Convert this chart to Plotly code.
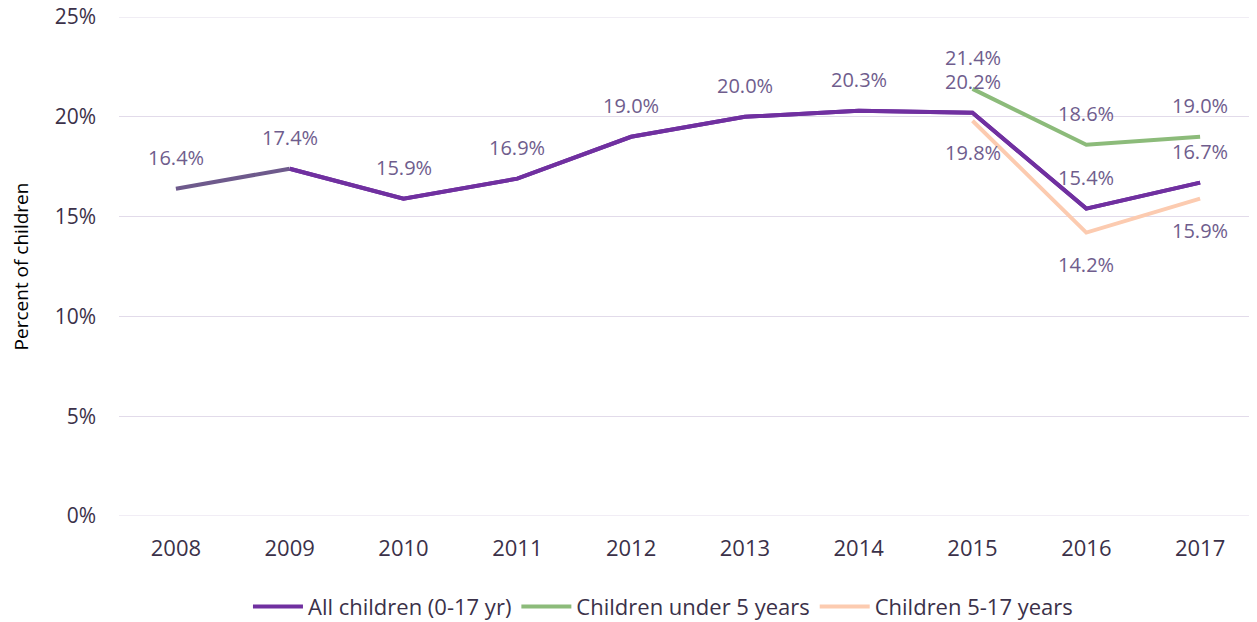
import plotly.graph_objects as go

years = ["2008", "2009", "2010", "2011", "2012", "2013", "2014", "2015", "2016", "2017"]
all_children = [16.4, 17.4, 15.9, 16.9, 19.0, 20.0, 20.3, 20.2, 15.4, 16.7]
under5_years = ["2015", "2016", "2017"]
under5 = [21.4, 18.6, 19.0]
age5_17_years = ["2015", "2016", "2017"]
age5_17 = [19.8, 14.2, 15.9]
y_ticks = [0, 5, 10, 15, 20, 25]
y_ticktext = ["0%", "5%", "10%", "15%", "20%", "25%"]

PURPLE = "#7030a0"
GRAYPURPLE = "#6e5a8c"
GREEN = "#8cbb7a"
PEACH = "#fccbb0"
LABEL = "#6f5d8d"
TICK = "#3b3149"
GRID = "#e2dbea"
FONT = "Open Sans, sans-serif"

fig = go.Figure()
fig.add_trace(go.Scatter(x=years[1:], y=all_children[1:], mode="lines",
                         line=dict(color=PURPLE, width=4), name="All children (0-17 yr)"))
fig.add_trace(go.Scatter(x=years[:2], y=all_children[:2], mode="lines",
                         line=dict(color=GRAYPURPLE, width=4), showlegend=False, hoverinfo="skip"))
fig.add_trace(go.Scatter(x=under5_years, y=under5, mode="lines",
                         line=dict(color=GREEN, width=4), name="Children under 5 years"))
fig.add_trace(go.Scatter(x=age5_17_years, y=age5_17, mode="lines",
                         line=dict(color=PEACH, width=4), name="Children 5-17 years"))
fig.add_trace(go.Scatter(x=years[1:], y=all_children[1:], mode="lines",
                         line=dict(color=PURPLE, width=4), showlegend=False, hoverinfo="skip"))

annotations = []
def add_labels(xs, ys, shift):
    for x, y in zip(xs, ys):
        annotations.append(dict(x=years.index(x), y=y, xref="x", yref="y", text=f"{y:.1f}%",
                                showarrow=False, yshift=shift,
                                font=dict(family=FONT, size=20, color=LABEL)))

add_labels(years, all_children, 31)
add_labels(under5_years, under5, 31)
add_labels(age5_17_years, age5_17, -32)

# edge gridlines (plotly hides gridlines exactly at the range ends)
shapes = []
for v in (y_ticks[0], y_ticks[-1]):
    shapes.append(dict(type="line", xref="paper", yref="y", x0=0, x1=1, y0=v, y1=v,
                       line=dict(color=GRID, width=1), layer="below"))

fig.update_layout(
    width=1249, height=622,
    margin=dict(l=111, r=0, t=9, b=114),
    paper_bgcolor="white", plot_bgcolor="white",
    font=dict(family=FONT, size=20, color=TICK),
    annotations=annotations,
    shapes=shapes,
    showlegend=True,
    legend=dict(orientation="h", x=0.478, xanchor="center", y=-0.182, yanchor="middle",
                font=dict(family=FONT, size=22, color=TICK), itemwidth=50,
                traceorder="normal"),
    xaxis=dict(type="category", categoryorder="array", categoryarray=years,
               range=[-0.5, len(years) - 0.5], automargin=False,
               showgrid=False, zeroline=False, showline=False,
               ticks="", ticklabelstandoff=17, tickfont=dict(size=22, color=TICK)),
    yaxis=dict(range=[0, 25], tickvals=y_ticks, ticktext=y_ticktext, automargin=False,
               showgrid=True, gridcolor=GRID, gridwidth=1, zeroline=False,
               showline=False, ticks="", ticklabelstandoff=22, ticklabeloverflow="allow",
               title=dict(text="Percent of children", font=dict(size=19, color="#000000"), standoff=36),
               tickfont=dict(size=21, color=TICK)),
)

fig.write_html("out.html")
